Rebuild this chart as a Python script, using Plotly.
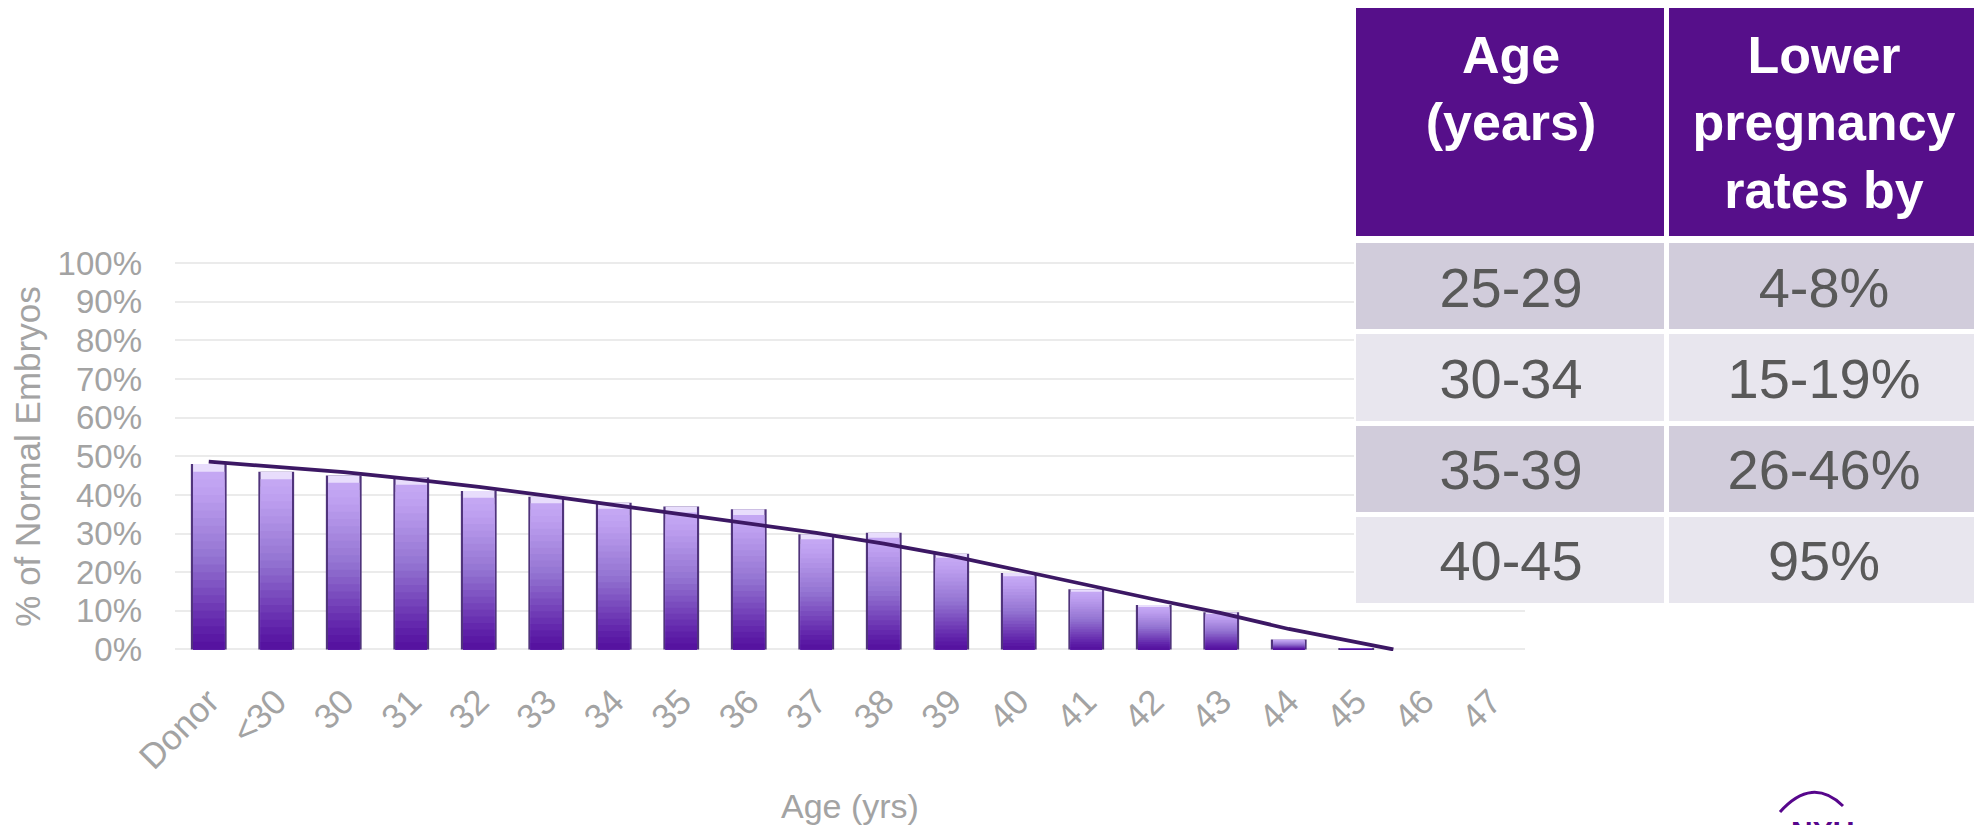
import plotly.graph_objects as go

# ---------------- data ----------------
categories = ["Donor", "<30", "30", "31", "32", "33", "34", "35", "36", "37",
              "38", "39", "40", "41", "42", "43", "44", "45", "46", "47"]
normal_pct = [48.0, 46.0, 45.0, 44.5, 41.0, 39.5, 38.0, 37.0, 36.3, 29.8,
              30.2, 24.8, 19.8, 15.6, 11.5, 9.6, 2.6, 0.4, 0.0, 0.0]

trend_x = [0, 1, 2, 3, 4, 5, 6, 7, 8, 9, 10, 11, 12, 13, 14, 15, 16, 17, 17.55]
trend_pct = [48.6, 47.3, 45.9, 44.1, 42.1, 39.8, 37.4, 35.0, 32.6, 30.2,
             27.4, 24.2, 20.5, 16.7, 13.0, 9.4, 5.3, 1.9, 0.0]

table_header = ["Age<br>(years)<br>\u00a0", "Lower<br>pregnancy<br>rates by"]
table_age = ["25-29", "30-34", "35-39", "40-45"]
table_lower = ["4-8%", "15-19%", "26-46%", "95%"]

# ---------------- layout helpers (page is offset by the 8px body margin) ----------------
W, H, OFF = 1974, 817, 8


def px(X):
    return (X - OFF) / W


def py(Y):
    return min(1.0, 1 - (Y - OFF) / H)


FONT = "Arial, 'Liberation Sans', sans-serif"
GREY = "#a3a3a3"
N_SEG = 24
stops = [(0.0, (84, 16, 158)), (0.12, (96, 34, 170)), (0.5, (148, 116, 210)),
         (0.85, (190, 160, 240)), (1.0, (200, 172, 245))]


def grad(t):
    for (t0, c0), (t1, c1) in zip(stops[:-1], stops[1:]):
        if t0 <= t <= t1:
            f = (t - t0) / (t1 - t0)
            return "rgb(%d,%d,%d)" % tuple(round(a + (b - a) * f) for a, b in zip(c0, c1))
    return "rgb(%d,%d,%d)" % stops[-1][1]


x_idx = list(range(len(categories)))
fig = go.Figure()

# darker rim behind every bar
fig.add_trace(go.Bar(
    x=x_idx, y=normal_pct, width=0.53,
    marker=dict(color="rgb(80,52,124)", line=dict(width=0)),
    showlegend=False, hoverinfo="skip",
))
# gradient fill: overlaid bars, tallest (lightest) first, shortest (darkest) last
for k in range(N_SEG):
    frac = (N_SEG - k) / N_SEG
    t = (N_SEG - k - 0.5) / N_SEG
    col = "rgb(232,221,252)" if k == 0 else grad(t)
    fig.add_trace(go.Bar(
        x=x_idx, y=[v * frac for v in normal_pct], width=0.465,
        marker=dict(color=col, line=dict(width=0)),
        showlegend=False, hoverinfo="skip",
    ))

fig.add_trace(go.Scatter(
    x=trend_x, y=trend_pct, mode="lines",
    line=dict(color="#3c1864", width=3.8), showlegend=False, hoverinfo="skip",
))

# ---------------- table (drawn as heatmap cells) ----------------
n_rows = len(table_age)
fig.add_trace(go.Heatmap(
    x=[0, 1], y=[0], z=[[0, 0]],
    text=[table_header], texttemplate="<b>%{text}</b>",
    textfont=dict(family=FONT, size=52, color="white"),
    colorscale=[[0, "#560f8a"], [1, "#560f8a"]], showscale=False,
    xgap=5, ygap=0, hoverinfo="skip", xaxis="x2", yaxis="y3",
))
fig.add_trace(go.Heatmap(
    x=[0, 1], y=list(range(n_rows)),
    z=[[i % 2, i % 2] for i in range(n_rows)],
    text=[[a, b] for a, b in zip(table_age, table_lower)], texttemplate="%{text}",
    textfont=dict(family=FONT, size=56, color="#595959"),
    colorscale=[[0, "#d1ccdb"], [1, "#e8e6ee"]], zmin=0, zmax=1, showscale=False,
    xgap=5, ygap=5, hoverinfo="skip", xaxis="x2", yaxis="y2",
))

hidden = dict(visible=False, showgrid=False, zeroline=False, automargin=False)

fig.update_layout(
    width=W, height=H,
    margin=dict(l=0, r=0, t=0, b=0),
    paper_bgcolor="white", plot_bgcolor="white",
    barmode="overlay",
    font=dict(family=FONT, color=GREY),
    xaxis=dict(
        domain=[px(175), px(1525)],
        range=[-0.5, 19.5], automargin=False,
        tickmode="array", tickvals=x_idx, ticktext=categories,
        tickangle=-45, showgrid=False, zeroline=False, showline=False,
        tickfont=dict(size=35, color=GREY), ticklabelstandoff=22,
        title=dict(text="Age (yrs)", font=dict(size=34, color=GREY), standoff=24),
    ),
    yaxis=dict(
        domain=[py(651), py(262)],
        range=[-0.4, 100.3], automargin=False,
        tickmode="linear", tick0=0, dtick=10, ticksuffix="%",
        tickfont=dict(size=33, color=GREY), ticklabelstandoff=32,
        showgrid=True, gridcolor="#ebebeb", gridwidth=2,
        zeroline=False, showline=False,
        title=dict(text="% of Normal Embryos", font=dict(size=35, color=GREY), standoff=12),
    ),
    xaxis2=dict(domain=[px(1354), px(1980)], range=[-0.5, 1.5], anchor="y2", **hidden),
    yaxis2=dict(domain=[py(606), py(241)], range=[n_rows - 0.5, -0.5], anchor="x2", **hidden),
    yaxis3=dict(domain=[py(236), py(6)], range=[-0.5, 0.5], anchor="x2", **hidden),
)

# NYU logo (partially visible at bottom edge, as in the source slide)
fig.add_shape(type="path", xref="paper", yref="paper",
              path="M %f %f Q %f %f %f %f" % (px(1780), py(812), px(1812), py(776), px(1843), py(806)),
              line=dict(color="#57068c", width=3))
fig.add_annotation(text="<b>NYU</b>", xref="paper", yref="paper",
                   x=px(1822), y=py(813), xanchor="center", yanchor="top",
                   showarrow=False, font=dict(family=FONT, size=30, color="#57068c"))

fig.write_html("out.html")
